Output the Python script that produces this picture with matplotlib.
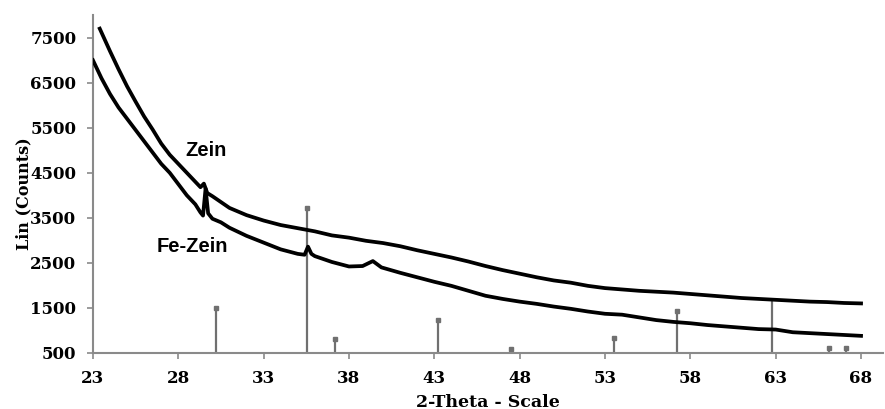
import matplotlib
matplotlib.use('Agg')
import matplotlib.pyplot as plt

# XRD traces (2-theta, counts)
zein_x = [23.4, 24, 24.5, 25, 25.5, 26, 26.5, 27, 27.5, 28, 28.5, 29, 29.3, 29.5, 29.7,
          30, 31, 32, 33, 34, 35, 36, 37, 38, 39, 40, 41, 42, 43, 44, 45, 46, 47, 48,
          49, 50, 51, 52, 53, 54, 55, 56, 57, 58, 59, 60, 61, 62, 63, 64, 65, 66, 67, 68]
zein_y = [7700, 7200, 6800, 6420, 6080, 5750, 5460, 5150, 4900, 4700, 4500, 4300, 4180, 4260, 4050,
          3980, 3720, 3560, 3440, 3340, 3270, 3200, 3110, 3060, 2990, 2940, 2870, 2780, 2700, 2620,
          2530, 2430, 2340, 2260, 2180, 2110, 2060, 1990, 1940, 1910, 1880, 1860, 1840, 1810,
          1780, 1750, 1720, 1700, 1680, 1660, 1640, 1630, 1610, 1600]

fezein_x = [23, 23.5, 24, 24.5, 25, 25.5, 26, 26.5, 27, 27.5, 28, 28.5, 29, 29.3, 29.45, 29.6,
            29.75, 30, 30.5, 31, 32, 33, 34, 35, 35.4, 35.6, 35.8, 36, 37, 38, 38.8, 39.4, 39.9,
            41, 42, 43, 44, 45, 46, 47, 48, 49, 50, 51, 52, 53, 54, 55, 56, 57, 58, 59, 60, 61,
            62, 63, 64, 65, 66, 67, 68]
fezein_y = [7000, 6600, 6250, 5950, 5700, 5450, 5200, 4950, 4700, 4500, 4250, 4000, 3800, 3620,
            3550, 4150, 3600, 3480, 3400, 3280, 3100, 2950, 2800, 2700, 2680, 2860, 2700, 2650,
            2520, 2420, 2430, 2540, 2400, 2280, 2180, 2080, 1990, 1880, 1770, 1700, 1640, 1590,
            1530, 1480, 1420, 1370, 1350, 1290, 1230, 1190, 1160, 1120, 1090, 1060, 1030, 1020,
            960, 940, 920, 900, 880]

# reference pattern sticks
ref_x = [30.2, 35.55, 37.2, 43.2, 47.5, 53.5, 57.2, 62.8, 66.1, 67.1]
ref_y = [1500, 3720, 820, 1230, 580, 840, 1430, 1690, 600, 600]
ref_marked = [True, True, True, True, True, True, True, False, True, True]

xticks = [23, 28, 33, 38, 43, 48, 53, 58, 63, 68]
yticks = [500, 1500, 2500, 3500, 4500, 5500, 6500, 7500]

fig = plt.figure(figsize=(8.85, 4.09), dpi=100)
ax = fig.add_axes([0.105, 0.137, 0.893, 0.826])

gray = '#8a8a8a'
ax.vlines(ref_x, 500, ref_y, color='#707070', lw=1.6, zorder=2)
mx = [x for x, m in zip(ref_x, ref_marked) if m]
my = [y for y, m in zip(ref_y, ref_marked) if m]
ax.plot(mx, my, 's', color='#707070', ms=3.5, zorder=2)

ax.plot(zein_x, zein_y, color='black', lw=2.7, zorder=3)
ax.plot(fezein_x, fezein_y, color='black', lw=2.7, zorder=3)

ax.text(29.6, 5000, 'Zein', fontsize=14.5, fontweight='bold', family='Liberation Sans',
        ha='center', va='center')
ax.text(28.8, 2860, 'Fe-Zein', fontsize=14.5, fontweight='bold', family='Liberation Sans',
        ha='center', va='center')

tick_font = dict(family='DejaVu Serif', fontweight='bold', fontsize=12)
ax.set_xlim(23, 69.3)
ax.set_ylim(500, 8000)
ax.set_xticks(xticks)
ax.set_yticks(yticks)
ax.set_xticklabels([str(t) for t in xticks], **tick_font)
ax.set_yticklabels([str(t) for t in yticks], **tick_font)
ax.tick_params(axis='both', direction='out', length=4, width=1.2, color=gray, pad=8)

for s in ['top', 'right']:
    ax.spines[s].set_visible(False)
for s in ['left', 'bottom']:
    ax.spines[s].set_color(gray)
    ax.spines[s].set_linewidth(1.5)

ax.set_xlabel('2-Theta - Scale', family='DejaVu Serif', fontweight='bold', fontsize=12.5, labelpad=5)
ax.set_ylabel('Lin (Counts)', family='DejaVu Serif', fontweight='bold', fontsize=11.5)
ax.yaxis.set_label_coords(-0.077, 0.47)

fig.savefig('out.png', dpi=100)
